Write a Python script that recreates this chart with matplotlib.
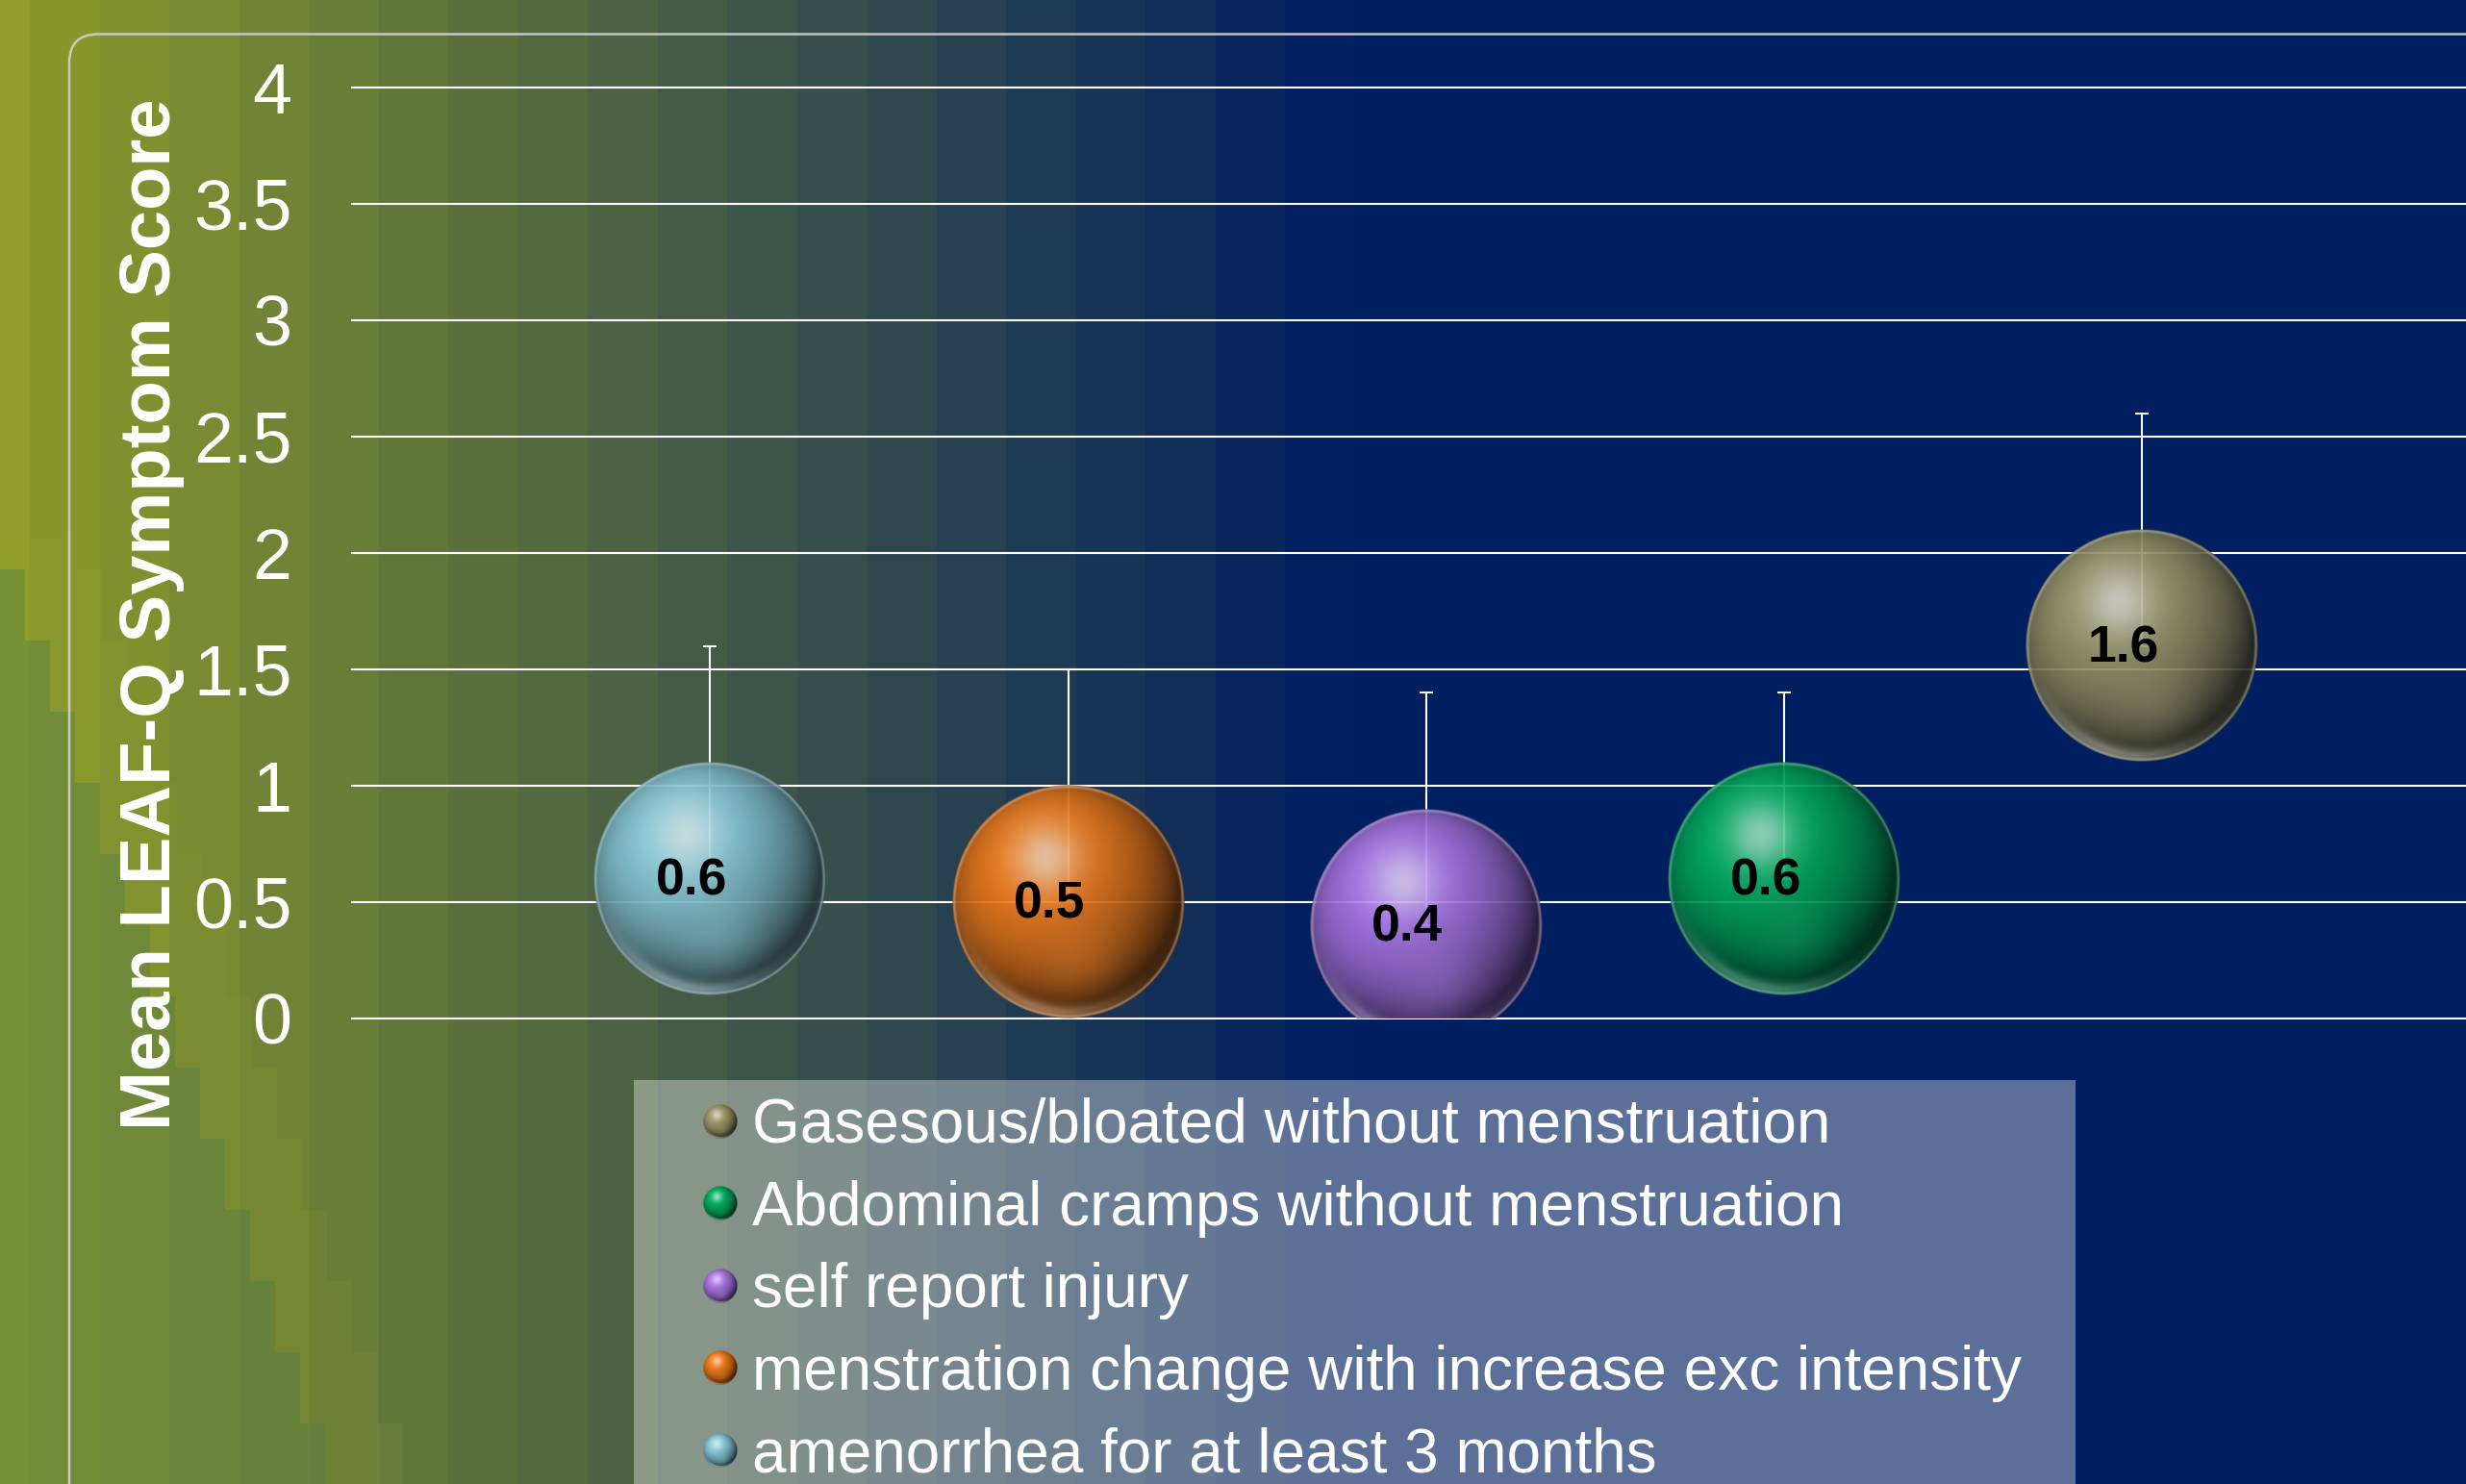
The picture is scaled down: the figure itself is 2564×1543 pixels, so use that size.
import numpy as np
import matplotlib
matplotlib.use("Agg")
import matplotlib.pyplot as plt
from matplotlib.patches import FancyBboxPatch, Rectangle, Circle
from matplotlib.legend_handler import HandlerBase
from matplotlib.image import BboxImage
from matplotlib.transforms import Bbox, TransformedBbox

plt.rcParams['font.family'] = ['Liberation Sans', 'DejaVu Sans']

# ---------------- data ----------------
categories = ["amenorrhea for at least 3 months",
              "menstration change with increase exc intensity",
              "self report injury",
              "Abdominal cramps without menstruation",
              "Gasesous/bloated without menstruation"]
values = [0.6, 0.5, 0.4, 0.6, 1.6]
err_upper = [1.0, 1.0, 1.0, 0.8, 1.0]
yticks = [0, 0.5, 1, 1.5, 2, 2.5, 3, 3.5, 4]
ytick_labels = ["0", "0.5", "1", "1.5", "2", "2.5", "3", "3.5", "4"]
ylabel = "Mean LEAF-Q Symptom Score"

# ---------------- style ----------------
sphere_colors = [(124, 184, 200), (222, 112, 22), (158, 108, 212), (0, 160, 86), (144, 140, 96)]
W, H = 2564, 1543
DPI = 100
BUBBLE_DIAM = 1.0   # bubble diameter in y-data units


def make_sphere(base, n=300, alpha_max=0.92):
    b = np.array(base, dtype=float) / 255.0
    lin = np.linspace(-1, 1, n)
    x, y = np.meshgrid(lin, lin)          # y grows downward (image rows)
    r2 = x * x + y * y
    r = np.sqrt(r2)
    z = np.sqrt(np.clip(1 - r2, 0, 1))
    L = np.array([-0.3, -0.4, 0.87])
    L = L / np.linalg.norm(L)
    nd = np.clip(x * L[0] + y * L[1] + z * L[2], 0, 1)
    shade = 0.3 + 0.85 * nd
    col = b[None, None, :] * shade[..., None]
    # secondary lower glow
    g2 = np.exp(-((x - 0.08) ** 2 + (y - 0.45) ** 2) / (2 * 0.24 ** 2))
    col = col + ((b * 0.9 + 0.08)[None, None, :] - col) * (0.4 * g2)[..., None]
    # bottom-left rim reflection
    theta = np.arctan2(y, x)
    rimw = np.exp(-((r - 0.95) / 0.06) ** 2) * np.exp(-((theta - 1.85) / 0.7) ** 2)
    col = col + ((b * 0.55 + 0.45)[None, None, :] - col) * (0.6 * rimw)[..., None]
    # specular highlight
    hl = np.exp(-((x + 0.2) ** 2 + (y + 0.38) ** 2) / (2 * 0.2 ** 2))
    hcol = b * 0.3 + 0.7
    col = col * (1 - 0.85 * hl[..., None]) + hcol[None, None, :] * (0.85 * hl)[..., None]
    # light outline
    edge = np.exp(-((r - 0.985) / 0.012) ** 2)
    col = col * (1 - 0.5 * edge[..., None]) + (b * 0.4 + 0.6)[None, None, :] * (0.5 * edge)[..., None]
    col = np.clip(col, 0, 1)
    a = np.clip((1 - r) / (2.0 / n) + 0.5, 0, 1) * alpha_max
    return np.dstack([col, a])


# ---------------- figure / background ----------------
fig = plt.figure(figsize=(W / DPI, H / DPI), dpi=DPI)

xs = np.arange(W)
k = np.floor((xs + 41.5) / 72.5)
t = np.clip(k / 19.3, 0, 1)
c0 = np.array([143, 158, 42], float)
c1 = np.array([0, 31, 96], float)
stripe = c0[None, :] + (c1 - c0)[None, :] * t[:, None]
img = np.repeat(stripe[None, :, :], H, axis=0)
yy = np.arange(H)[:, None]
xx = np.arange(W)[None, :]
yq = (yy // 37) * 37
bnd = np.where(yq >= 545, (yq - 545) * 0.35 + 18, -1e9)
bnd = np.floor(bnd / 26) * 26
green = (xx < bnd)
band = (xx >= bnd) & (xx < bnd + 80)
gtar = np.array([92, 128, 70], float)
ytar = np.array([150, 160, 40], float)
img[green] = img[green] * 0.55 + gtar * 0.45
img[band] = img[band] * 0.88 + ytar * 0.12
img = np.clip(img / 255.0, 0, 1)

bg = fig.add_axes([0, 0, 1, 1], zorder=-10)
bg.imshow(img, extent=(0, W, H, 0), aspect='auto', interpolation='nearest')
bg.set_xlim(0, W)
bg.set_ylim(H, 0)
bg.set_axis_off()
bg.add_patch(FancyBboxPatch((72, 35.5), 2800, 2000,
                            boxstyle="round,pad=0,rounding_size=30",
                            facecolor='none', edgecolor=(0.82, 0.82, 0.82), linewidth=1.8, alpha=0.9))
bg.add_patch(Rectangle((659, 1123), 1499, 600, facecolor=(1, 1, 1, 0.36), edgecolor='none'))

# ---------------- main axes ----------------
ax_left = 366 / W
ax_bottom = (H - 1058.7) / H
ax_height = (1058.7 - 90.7) / H
ax = fig.add_axes([ax_left, ax_bottom, 1 - ax_left, ax_height], zorder=0)
ax.set_facecolor('none')
xpos = np.arange(len(values))
ax.set_xlim(-1.0, 4.904)
ax.set_ylim(0, 4)
for s in ax.spines.values():
    s.set_visible(False)
ax.set_xticks([])
ax.set_yticks(yticks)
ax.set_yticklabels(ytick_labels)
ax.tick_params(axis='y', length=0, pad=45, labelsize=53, labelcolor='white')
ax.set_axisbelow(True)
ax.yaxis.grid(True, color='white', linewidth=1.5)
for gl in ax.get_ygridlines():
    gl.set_clip_on(False)

ax.errorbar(xpos, values, yerr=[np.zeros(len(values)), err_upper], fmt='none',
            ecolor='white', elinewidth=1.5, capsize=5, capthick=1.5, zorder=2)

fig.canvas.draw()
p0 = ax.transData.transform((0, 0))
p1 = ax.transData.transform((1, 1))
px_x = p1[0] - p0[0]
px_y = p1[1] - p0[1]
ry = BUBBLE_DIAM / 2
rx = ry * px_y / px_x

for xi, v, c in zip(xpos, values, sphere_colors):
    sp = make_sphere(c)
    ax.imshow(sp, extent=(xi - rx, xi + rx, v - ry, v + ry), aspect='auto',
              interpolation='bilinear', zorder=3)
    ax.annotate(f"{v:.1f}", (xi, v), xytext=(-14, -2), textcoords='offset points',
                ha='center', va='center', fontsize=38.5, fontweight='bold', color='black', zorder=5)
ax.set_xlim(-1.0, 4.904)
ax.set_ylim(0, 4)

ax.text(-0.0792, 0.4339, ylabel, transform=ax.transAxes, rotation=90,
        ha='right', va='center', rotation_mode='default',
        fontsize=53.5, fontweight='bold', color='white')


# ---------------- legend ----------------
class SphereHandler(HandlerBase):
    def __init__(self, rgba, diam_pt):
        super().__init__()
        self.rgba = rgba
        self.d = diam_pt

    def create_artists(self, legend, orig_handle, xdescent, ydescent, width, height, fontsize, trans):
        cx = -xdescent + width / 2
        cy = -ydescent + height / 2
        bb = Bbox.from_bounds(cx - self.d / 2, cy - self.d / 2, self.d, self.d)
        im = BboxImage(TransformedBbox(bb, trans), interpolation='bilinear')
        im.set_data(self.rgba)
        return [im]


handles = []
hmap = {}
for c in sphere_colors:
    h = Circle((0, 0), 1)
    handles.append(h)
    hmap[h] = SphereHandler(make_sphere(c, n=80, alpha_max=1.0), 36 * 72 / DPI)

order = list(range(len(categories)))[::-1]
fig.legend([handles[i] for i in order], [categories[i] for i in order], handler_map=hmap,
           loc='upper left', bbox_to_anchor=(717 / W, 1 - 1141 / H),
           frameon=False, fontsize=46, labelcolor='white', handlelength=1.0,
           handletextpad=0.02, labelspacing=0.4, borderpad=0, borderaxespad=0)

fig.savefig("out.png", dpi=DPI)
